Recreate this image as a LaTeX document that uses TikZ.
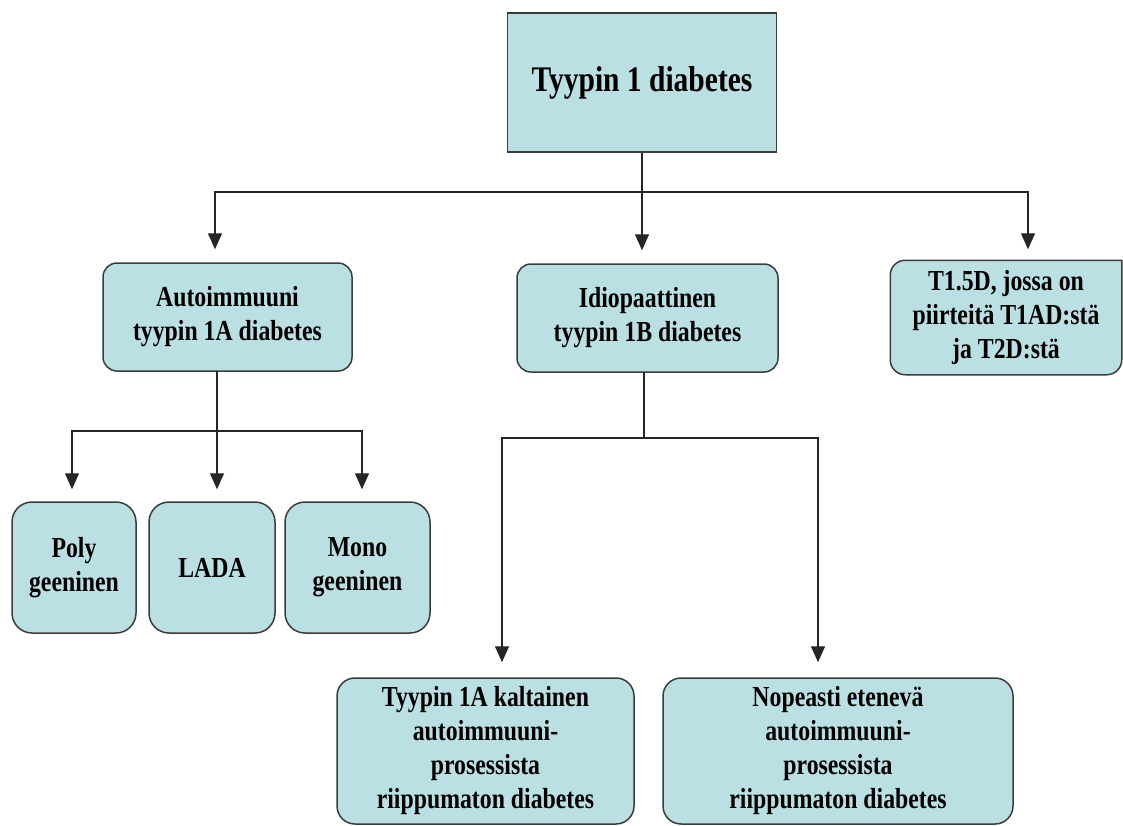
\documentclass[tikz,border=0pt]{standalone}
\usepackage{fontspec}
\newfontfamily\dfont[FakeStretch=0.82]{Liberation Serif}
\usetikzlibrary{arrows.meta,backgrounds}
\definecolor{boxfill}{RGB}{187,224,227}
\definecolor{boxline}{RGB}{60,60,60}
\begin{document}
\begin{tikzpicture}[x=1pt,y=-1pt,
  box/.style={draw=boxline, line width=1.5pt, fill=boxfill, align=center, inner sep=0pt,
    font=\dfont\bfseries\fontsize{29}{34}\selectfont, text=black},
  rbox/.style={box, rounded corners=#1},
  conn/.style={line width=1.4pt, draw=black!85, line cap=rect},
  arr/.style={conn, line cap=butt, -{Triangle[width=14pt,length=16pt]}},
]
\useasboundingbox (0,0) rectangle (1123,825);

% boxes
\node[box, minimum width=269pt, minimum height=139pt,
  font=\dfont\bfseries\fontsize{36}{40}\selectfont] (top) at (642,82.5) {Tyypin 1 diabetes};
\node[rbox=14pt, minimum width=249pt, minimum height=108pt] (auto) at (227.5,317) {Autoimmuuni\\tyypin 1A diabetes};
\node[rbox=14pt, minimum width=261pt, minimum height=108pt] (idio) at (647.5,318) {Idiopaattinen\\tyypin 1B diabetes};
\node[box, draw=none, fill=none, minimum width=230pt, minimum height=113pt] (t15) at (1006,317.5) {T1.5D, jossa on\\piirteitä T1AD:stä\\ja T2D:stä};
\begin{scope}[on background layer]
  \draw[draw=boxline, line width=1.5pt, fill=boxfill]
    (t15.north) [rounded corners=15pt] -- (t15.north west) -- (t15.south west) -- (t15.south east)
    [sharp corners] -- (t15.north east) -- cycle;
\end{scope}
\node[rbox=20pt, minimum width=124pt, minimum height=131pt] (poly) at (74,567.5) {Poly\\geeninen};
\node[rbox=20pt, minimum width=126pt, minimum height=131pt] (lada) at (212,567.5) {LADA};
\node[rbox=20pt, minimum width=145pt, minimum height=131pt] (mono) at (357.5,567.5) {Mono\\geeninen};
\node[rbox=18pt, minimum width=297pt, minimum height=146pt] (tyy) at (485.5,751) {Tyypin 1A kaltainen\\autoimmuuni-\\prosessista\\riippumaton diabetes};
\node[rbox=18pt, minimum width=350pt, minimum height=146pt] (nop) at (838,751) {Nopeasti etenevä\\autoimmuuni-\\prosessista\\riippumaton diabetes};

% level 1 connectors
\coordinate (h1L) at (215,192);
\coordinate (h1R) at (1028,192);
\draw[conn] (h1L) -- (h1R);
\draw[arr, shorten >=13pt] (top.south) -- (top.south |- idio.north);
\draw[arr, shorten >=13pt] (h1L) -- (h1L |- auto.north);
\draw[arr, shorten >=11pt] (h1R) -- (h1R |- t15.north);

% level 2 left connectors
\coordinate (h2M) at (217,431);
\coordinate (h2L) at (72,431);
\coordinate (h2R) at (362,431);
\draw[conn] (h2M |- auto.south) -- (h2M);
\draw[conn] (h2L) -- (h2R);
\draw[arr, shorten >=12pt] (h2L) -- (h2L |- poly.north);
\draw[arr, shorten >=12pt] (h2M) -- (h2M |- lada.north);
\draw[arr, shorten >=12pt] (h2R) -- (h2R |- mono.north);

% level 2 middle connectors
\coordinate (h3M) at (644,438);
\coordinate (h3L) at (502,438);
\coordinate (h3R) at (818,438);
\draw[conn] (h3M |- idio.south) -- (h3M);
\draw[conn] (h3L) -- (h3R);
\draw[arr, shorten >=15pt] (h3L) -- (h3L |- tyy.north);
\draw[arr, shorten >=15pt] (h3R) -- (h3R |- nop.north);
\end{tikzpicture}
\end{document}
